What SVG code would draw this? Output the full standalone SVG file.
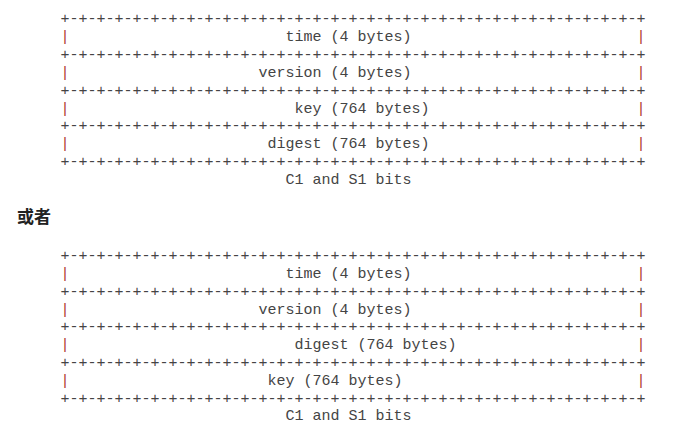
<svg xmlns="http://www.w3.org/2000/svg" width="677" height="424" viewBox="0 0 677 424">
<style>
  .m { font-family: "Liberation Mono", "Courier New", monospace; font-size: 15px; fill: #444; white-space: pre; }
  .p { fill: #b03a2e; }
  .h { font-family: "Noto Sans CJK SC", "Noto Sans", sans-serif; font-size: 17px; font-weight: bold; fill: #222; }
</style>
<rect width="677" height="424" fill="#ffffff"/>
<g id="diagram1">
  <g id="borders1" class="m">
    <text x="60.5" y="23">+-+-+-+-+-+-+-+-+-+-+-+-+-+-+-+-+-+-+-+-+-+-+-+-+-+-+-+-+-+-+-+-+</text>
    <text x="60.5" y="58.8">+-+-+-+-+-+-+-+-+-+-+-+-+-+-+-+-+-+-+-+-+-+-+-+-+-+-+-+-+-+-+-+-+</text>
    <text x="60.5" y="94.6">+-+-+-+-+-+-+-+-+-+-+-+-+-+-+-+-+-+-+-+-+-+-+-+-+-+-+-+-+-+-+-+-+</text>
    <text x="60.5" y="130.4">+-+-+-+-+-+-+-+-+-+-+-+-+-+-+-+-+-+-+-+-+-+-+-+-+-+-+-+-+-+-+-+-+</text>
    <text x="60.5" y="166.2">+-+-+-+-+-+-+-+-+-+-+-+-+-+-+-+-+-+-+-+-+-+-+-+-+-+-+-+-+-+-+-+-+</text>
  </g>
  <g id="d1-time" class="m">
    <text class="m p" x="60.5" y="40.9">|</text>
    <text x="285.5" y="40.9">time (4 bytes)</text>
    <text class="m p" x="636.5" y="40.9">|</text>
  </g>
  <g id="d1-version" class="m">
    <text class="m p" x="60.5" y="76.7">|</text>
    <text x="258.5" y="76.7">version (4 bytes)</text>
    <text class="m p" x="636.5" y="76.7">|</text>
  </g>
  <g id="d1-key" class="m">
    <text class="m p" x="60.5" y="112.5">|</text>
    <text x="294.5" y="112.5">key (764 bytes)</text>
    <text class="m p" x="636.5" y="112.5">|</text>
  </g>
  <g id="d1-digest" class="m">
    <text class="m p" x="60.5" y="148.3">|</text>
    <text x="267.5" y="148.3">digest (764 bytes)</text>
    <text class="m p" x="636.5" y="148.3">|</text>
  </g>
  <g id="d1-caption" class="m">
    <text x="285.5" y="184.1">C1 and S1 bits</text>
  </g>
</g>
<g id="or-label">
  <text class="h" x="17" y="223">或者</text>
</g>
<g id="diagram2">
  <g id="borders2" class="m">
    <text x="60.5" y="260">+-+-+-+-+-+-+-+-+-+-+-+-+-+-+-+-+-+-+-+-+-+-+-+-+-+-+-+-+-+-+-+-+</text>
    <text x="60.5" y="295.7">+-+-+-+-+-+-+-+-+-+-+-+-+-+-+-+-+-+-+-+-+-+-+-+-+-+-+-+-+-+-+-+-+</text>
    <text x="60.5" y="331.4">+-+-+-+-+-+-+-+-+-+-+-+-+-+-+-+-+-+-+-+-+-+-+-+-+-+-+-+-+-+-+-+-+</text>
    <text x="60.5" y="367.1">+-+-+-+-+-+-+-+-+-+-+-+-+-+-+-+-+-+-+-+-+-+-+-+-+-+-+-+-+-+-+-+-+</text>
    <text x="60.5" y="402.8">+-+-+-+-+-+-+-+-+-+-+-+-+-+-+-+-+-+-+-+-+-+-+-+-+-+-+-+-+-+-+-+-+</text>
  </g>
  <g id="d2-time" class="m">
    <text class="m p" x="60.5" y="277.85">|</text>
    <text x="285.5" y="277.85">time (4 bytes)</text>
    <text class="m p" x="636.5" y="277.85">|</text>
  </g>
  <g id="d2-version" class="m">
    <text class="m p" x="60.5" y="313.55">|</text>
    <text x="258.5" y="313.55">version (4 bytes)</text>
    <text class="m p" x="636.5" y="313.55">|</text>
  </g>
  <g id="d2-digest" class="m">
    <text class="m p" x="60.5" y="349.25">|</text>
    <text x="294.5" y="349.25">digest (764 bytes)</text>
    <text class="m p" x="636.5" y="349.25">|</text>
  </g>
  <g id="d2-key" class="m">
    <text class="m p" x="60.5" y="384.95">|</text>
    <text x="267.5" y="384.95">key (764 bytes)</text>
    <text class="m p" x="636.5" y="384.95">|</text>
  </g>
  <g id="d2-caption" class="m">
    <text x="285.5" y="419.8">C1 and S1 bits</text>
  </g>
</g>
</svg>
